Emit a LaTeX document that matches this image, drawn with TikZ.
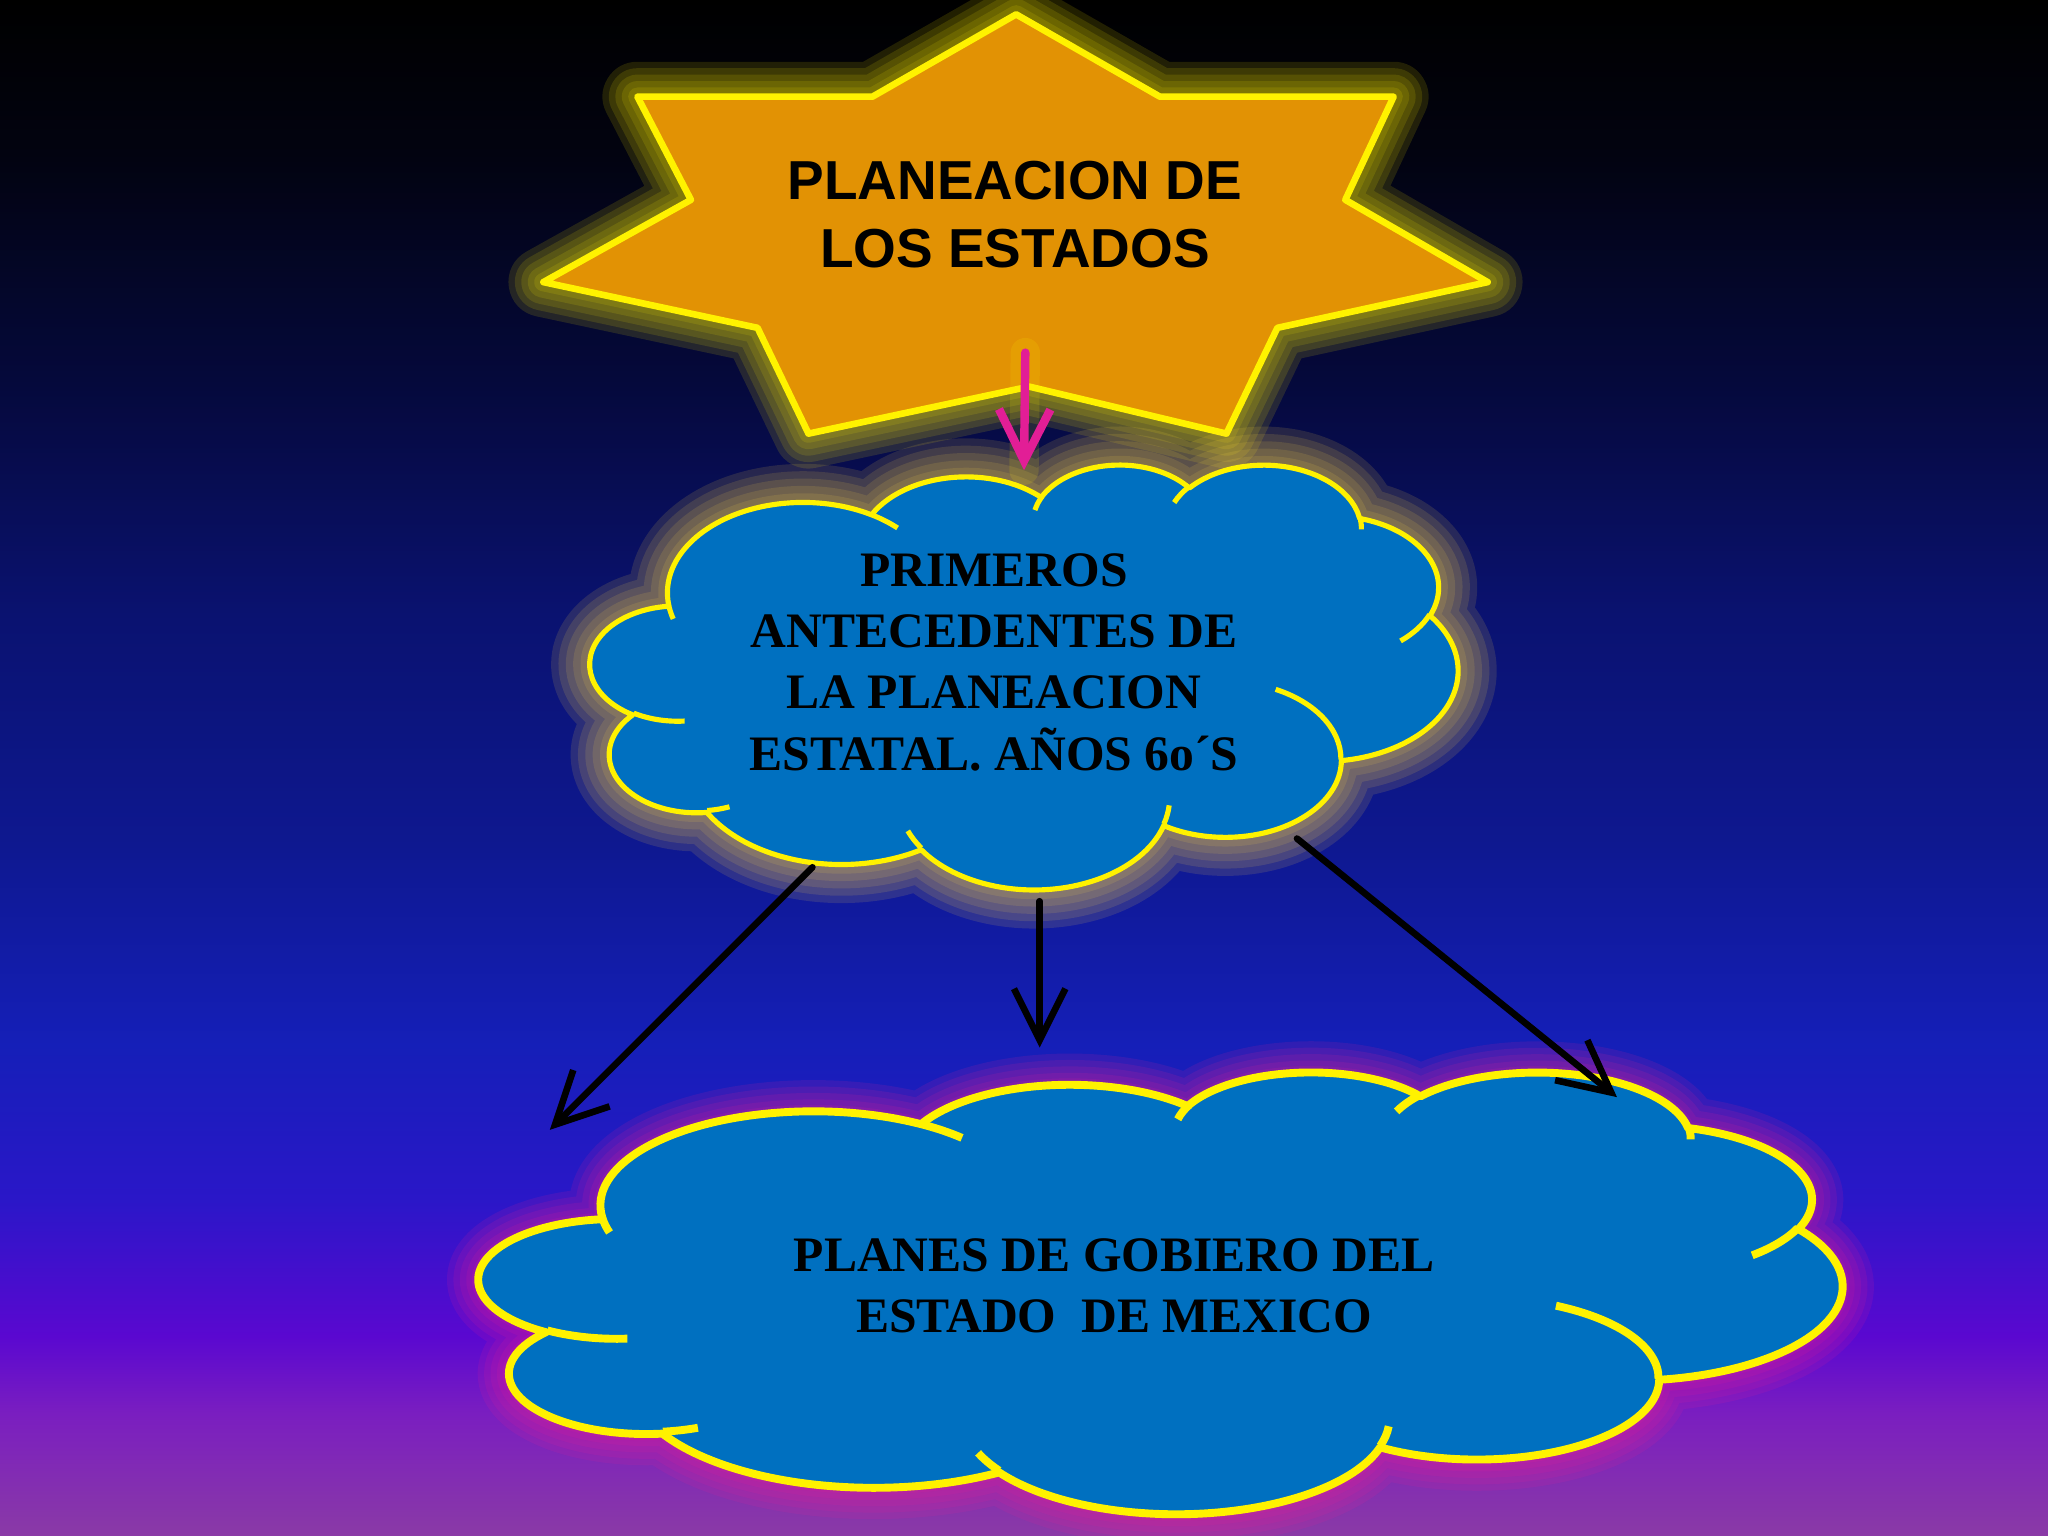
\documentclass[tikz,border=0pt]{standalone}
\usepackage{fontspec}
\setmainfont{Liberation Serif}
\setsansfont{Liberation Sans}
\usetikzlibrary{arrows.meta}

\definecolor{bgA}{HTML}{000000}
\definecolor{bgB}{HTML}{020310}
\definecolor{bgC}{HTML}{05093C}
\definecolor{bgD}{HTML}{0A1270}
\definecolor{bgE}{HTML}{0E1890}
\definecolor{bgF}{HTML}{151FB8}
\definecolor{bgG}{HTML}{2A17C8}
\definecolor{bgH}{HTML}{5A08D0}
\definecolor{bgI}{HTML}{7A1EC0}
\definecolor{bgJ}{HTML}{8A3AA6}
\definecolor{starorange}{RGB}{226,146,4}
\definecolor{cloudblue}{RGB}{0,112,192}
\definecolor{arrowpink}{RGB}{226,30,150}
\definecolor{haloyellow}{RGB}{255,240,0}
\definecolor{halotan}{RGB}{255,215,70}
\definecolor{halopink}{RGB}{235,30,150}

\pgfdeclareverticalshading{bgfade}{100bp}{color(0bp)=(bgJ); color(25bp)=(bgJ); color(29bp)=(bgI); color(31.5bp)=(bgH); color(36bp)=(bgG); color(41bp)=(bgF); color(47.5bp)=(bgE); color(55bp)=(bgD); color(62.5bp)=(bgC); color(70bp)=(bgB); color(75bp)=(bgA); color(100bp)=(bgA)}

\pgfmathdeclarefunction{visang}{3}{\pgfmathparse{atan2(#1*sin(#3),#2*cos(#3))}}
\newcommand\carc[4]{arc[x radius=#1, y radius=#2, start angle={visang(#1,#2,#3)}, delta angle={mod(visang(#1,#2,#3+#4)-visang(#1,#2,#3)+720,360)}]}

\newcommand\starpath{(778,11) -- (888,74) -- (1067,74) -- (1030,153) -- (1139,216) -- (978,251) -- (939,332) -- (788,296) -- (619,332) -- (580,251) -- (416,216) -- (529,153) -- (488,74) -- (668,74) -- cycle}

\newcommand\cloudpath{(39,143.7)
	\carc{67.53}{91.9}{-190.4875}{123.7805}
	\carc{53.33}{72.67}{-144.1024}{89.9452}
	\carc{43.65}{59.45}{-145.8079}{99.7230}
	\carc{48.57}{65.95}{-130.9861}{117.2417}
	\carc{53.33}{72.73}{-78.7089}{109.0269}
	\carc{67.75}{92.2}{-46.2673}{130.2690}
	\carc{57.85}{78.67}{0.6250}{114.0333}
	\carc{67.52}{92.15}{22.4516}{115.1726}
	\carc{77.2}{105.43}{66.2426}{75.7110}
	\carc{43.6}{59.18}{-274.9421}{146.7356}
	\carc{43.45}{59.45}{-246.8285}{152.5189}
	-- cycle}

\newcommand\cloudcreases{(46.93,261.77) \carc{43.45}{59.45}{86.742}{26.4295}
	(69.28,348.99) \carc{43.6}{59.18}{73.6105}{11.4475}
	(164.78,390.9) \carc{67.52}{92.15}{137.6242}{14.0811}
	(288.27,347.51) \carc{67.52}{92.15}{6.4533}{15.9984}
	(341.29,229.54) \carc{57.85}{78.67}{-70.2924}{70.9174}
	(417.98,153.54) \carc{53.33}{72.73}{30.318}{27.7515}
	(383.24,54.26) \carc{48.57}{65.95}{-13.7443}{14.8589}
	(290.78,39.52) \carc{48.57}{65.95}{-149.1815}{18.1954}
	(221.41,47.2) \carc{43.65}{59.45}{-163.4943}{17.6864}
	(140,51.92) \carc{67.53}{91.9}{-66.707}{12.3194}
	(41.27,157.89) \carc{67.53}{91.9}{157.6544}{11.8582}}

\tikzset{
	halo/.style={draw=#1, line join=round, line cap=round, opacity=0.13},
	rim/.style={draw=yellow, line join=round},
	arrowline/.style={line width=3.6pt, line cap=round, -{Straight Barb[length=28pt, width=28pt]}},
	cloudtext/.style={font=\bfseries\fontsize{27}{33.4}\selectfont, align=center},
}

\begin{document}
\begin{tikzpicture}[x=0.025cm, y=-0.025cm]
	\useasboundingbox (0,0) rectangle (1568,1176);
	\shade[shading=bgfade] (0,0) rectangle (1568,1176);

	\foreach \w in {38,31,24,17,10}
		\draw[halo=haloyellow, line width=\w pt] \starpath;
	\filldraw[rim, fill=starorange, line width=3.6pt] \starpath;
	\node[font=\sffamily\bfseries\fontsize{29.9}{37}\selectfont, align=center] (title) at (777,164) {PLANEACION DE\\LOS ESTADOS};

	\begin{scope}[shift={(452,355)}, x=0.0384259cm, y=-0.0188079cm]
		\foreach \w in {42,34,26,18,10}
			\draw[halo=halotan, line width=\w pt] \cloudpath;
		\filldraw[rim, fill=cloudblue, line width=2.8pt] \cloudpath;
		\draw[rim, line width=2.8pt] \cloudcreases;
	\end{scope}
	\node[cloudtext] (antec) at (761,507) {PRIMEROS\\ANTECEDENTES DE\\LA PLANEACION\\ESTATAL. AÑOS 6o´S};

	\coordinate (pinkA) at (785,270);
	\coordinate (pinkB) at (784,360);
	\draw[halo=haloyellow, line width=16pt] (pinkA) -- (pinkB);
	\draw[arrowline, arrowpink, line width=4.6pt] (pinkA) -- (pinkB);

	\begin{scope}[shift={(367,820)}, x=0.0603588cm, y=-0.0195602cm]
		\foreach \w in {34,27,20,13,7}
			\draw[halo=halopink, line width=\w pt] \cloudpath;
		\filldraw[rim, fill=cloudblue, line width=4.3pt] \cloudpath;
		\draw[rim, line width=4.3pt] \cloudcreases;
	\end{scope}
	\node[cloudtext] (planes) at (853,984.5) {PLANES DE GOBIERO DEL\\ESTADO\ \ DE MEXICO};

	\coordinate (leftA) at (622,664);
	\coordinate (leftB) at (421,865);
	\coordinate (midA) at (796,690);
	\coordinate (midB) at (796,802);
	\coordinate (rightA) at (993,642);
	\coordinate (rightB) at (1238,840);
	\draw[arrowline] (leftA) -- (leftB);
	\draw[arrowline] (midA) -- (midB);
	\draw[arrowline] (rightA) -- (rightB);
\end{tikzpicture}
\end{document}
